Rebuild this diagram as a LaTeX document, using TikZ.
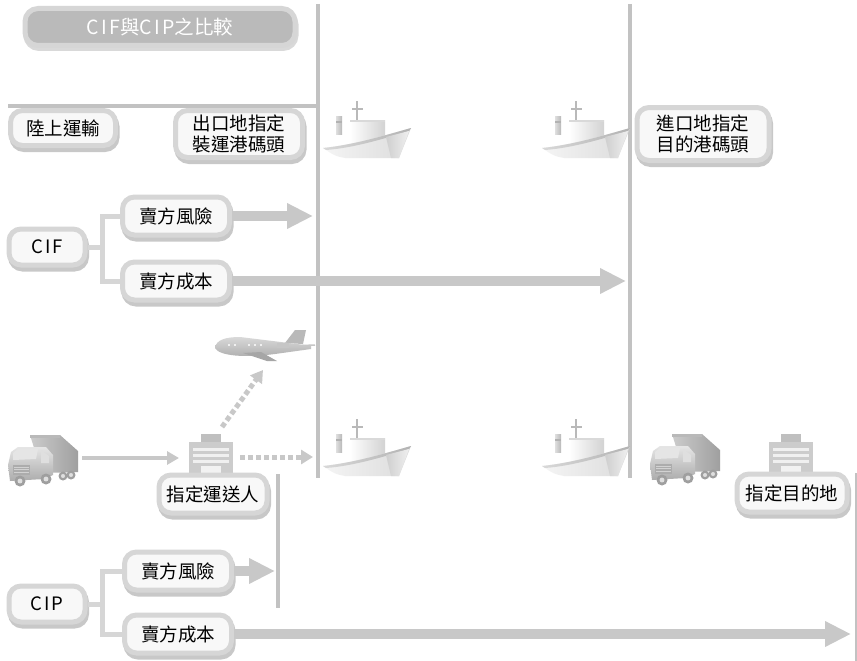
\documentclass[tikz,border=0pt]{standalone}
\usepackage{fontspec}
\setmainfont{Noto Sans CJK TC}
\usetikzlibrary{arrows.meta,shadows}

% letter-spaced Latin run
\newcommand\latinrun[1]{{\addfontfeature{LetterSpace=12}#1}}

\definecolor{ring}{HTML}{D6D6D6}
\definecolor{ringshade}{HTML}{C8C8C8}
\definecolor{inner}{HTML}{F8F8F8}
\definecolor{rule}{HTML}{C2C2C2}
\definecolor{arrowgray}{HTML}{C8C8C8}
\definecolor{titlefill}{HTML}{BABABA}

\tikzset{
  card/.style={draw=ring, line width=5pt, fill=inner, rounded corners=12pt,
    align=center, inner sep=0pt, font=\fontsize{18.5}{20.5}\selectfont,
    general shadow={draw=ringshade, fill=ringshade, line width=5pt,
      shadow xshift=1.5pt, shadow yshift=-4pt}},
  titlebox/.style={draw=ring, line width=5pt, fill=titlefill, rounded corners=13pt,
    text=white, inner sep=0pt, font=\fontsize{19.5}{21}\selectfont,
    general shadow={draw=ringshade!70, fill=ringshade!70, line width=5pt,
      shadow xshift=1pt, shadow yshift=-3pt}},
  rulebar/.style={draw=rule, line width=4pt},
  bracket/.style={draw=ring, line width=5pt},
  bigarrow/.style={draw=arrowgray, line width=10pt,
    -{Triangle[length=26pt, width=24pt]}},
  thinarrow/.style={draw=arrowgray, line width=4pt,
    -{Triangle[length=12pt, width=13pt]}},
  dotarrow/.style={draw=arrowgray, line width=5pt, dash pattern=on 5pt off 3pt,
    -{Triangle[length=12pt, width=14pt]}},
  ship/.pic={
    % funnel and mast
    \shade[left color=gray!25, right color=gray!55] (13,-42) rectangle (19,-24);
    \fill[gray!60] (13,-37) rectangle (19,-35);
    \draw[gray!55, line width=1.2pt] (34,-57) -- (34,-36) (29,-49) -- (40,-49);
    % superstructure
    \shade[left color=white, right color=gray!35] (27,-38) rectangle (62,-8);
    \fill[gray!30] (27,-38) rectangle (62,-36.5);
    % hull side
    \shade[left color=gray!8, right color=gray!28]
      (0,-10) .. controls (30,-13) and (60,-22) .. (88,-30)
      -- (76,0) -- (22,0) .. controls (12,-2) .. (0,-10) -- cycle;
    % deck band
    \shade[left color=gray!30, right color=gray!60]
      (0,-10) .. controls (30,-13) and (60,-22) .. (88,-30)
      -- (86,-27) .. controls (60,-19) and (30,-10) .. (3,-8) -- cycle;
    % bow
    \shade[left color=gray!38, right color=gray!12]
      (63,-21) -- (86,-27) -- (76,0) -- (68,0) -- cycle;
  },
  plane/.pic={
    % tail fin and stabiliser
    \fill[gray!55] (70,-5) -- (80,-18) -- (91,-18) -- (88,-4) -- cycle;
    \draw[gray!45, line width=1.5pt] (74,-2) -- (100,-3);
    % fuselage
    \shade[top color=gray!30, bottom color=gray!65]
      (0,0) .. controls (1,-8) and (10,-11) .. (25,-11) -- (82,-4)
      -- (96,-2) -- (96,1) -- (60,6) .. controls (30,10) and (4,8) .. (0,0) -- cycle;
    % wing
    \fill[gray!70] (28,5) -- (52,13) -- (62,13) -- (46,4) -- cycle;
    % engine
    \fill[gray!45] (62,-5) rectangle (74,0);
    % windows
    \foreach \wx in {14,20,34,40,46} \fill[white] (\wx,-3) circle (1.1);
  },
  truck/.pic={
    % trailer box
    \shade[left color=gray!40, right color=gray!75]
      (22,0) -- (52,0) -- (70,16) -- (70,37) -- (34,38) -- cycle;
    \fill[gray!55] (22,0) -- (52,0) -- (52,3) -- (22,3) -- cycle;
    % cab
    \shade[top color=gray!20, bottom color=gray!65]
      (0,30) -- (3,17) -- (10,12) -- (38,12) -- (45,20) -- (45,40)
      -- (36,44) -- (2,46) -- cycle;
    \fill[gray!20] (5,18) -- (10,14) -- (30,14) -- (28,24) -- (5,25) -- cycle;
    \fill[gray!25] (33,15) -- (41,21) -- (41,28) -- (33,28) -- cycle;
    \fill[gray!65] (5,30) rectangle (22,40);
    \foreach \gy in {32,34.5,37} \draw[gray!35, line width=0.8pt] (6,\gy) -- (21,\gy);
    % wheels
    \foreach \wx/\wy/\wr in {12/46/5.5, 38/44/5.5, 55/41/4.5, 63/40/4.5} {
      \fill[gray!75] (\wx,\wy) circle (\wr);
      \fill[gray!25] (\wx,\wy) circle (\wr*0.45);
    }
  },
  building/.pic={
    \fill[gray!50] (-10,0) rectangle (10,10);
    \fill[gray!40] (-22,8) rectangle (22,41);
    \foreach \sy in {14,20,26} \fill[gray!12] (-18,\sy) rectangle (18,\sy+3);
    \fill[gray!10] (-10,32) rectangle (10,41);
  }
}

\begin{document}
\begin{tikzpicture}[x=1pt, y=-1pt]
\useasboundingbox (0,0) rectangle (857,661);
\fill[white] (0,0) rectangle (857,661);

% title
\node[titlebox, minimum width=270pt, minimum height=37pt] (title) at (160,27)
  {\latinrun{CIF}與\latinrun{CIP}之比較};

% port rules
\coordinate (exTop) at (318,4);
\coordinate (exBot) at (318,478);
\coordinate (imTop) at (630,4);
\coordinate (imBot) at (630,478);
\coordinate (landL) at (8,106);
\coordinate (landR) at (318,106);
\draw[rulebar] (exTop) -- (exBot);
\draw[rulebar] (imTop) -- (imBot);
\draw[rulebar] (landL) -- (landR);
\coordinate (cipTop) at (278,474);
\coordinate (cipBot) at (278,608);
\draw[rulebar] (cipTop) -- (cipBot);
\coordinate (destTop) at (856,473);
\coordinate (destBot) at (856,661);
\draw[draw=rule, line width=2pt] (destTop) -- (destBot);

% headings
\node[card, minimum width=105pt, minimum height=35pt] (land) at (63,128) {陸上運輸};
\node[card, minimum width=127pt, minimum height=47pt] (export) at (239,134) {出口地指定\\裝運港碼頭};
\node[card, minimum width=132pt, minimum height=53pt] (import) at (703,134) {進口地指定\\目的港碼頭};

% ships
\pic at (323,158) {ship};
\pic at (542,158) {ship};
\pic at (323,476) {ship};
\pic at (542,476) {ship};

% CIF group
\node[card, minimum width=76pt, minimum height=36pt] (cif) at (47,247) {\latinrun{CIF}};
\node[card, minimum width=107pt, minimum height=38pt] (cifrisk) at (176,216) {賣方風險};
\node[card, minimum width=107pt, minimum height=38pt] (cifcost) at (176,281) {賣方成本};
\coordinate (cifj) at (102,247);
\draw[bracket] (cif.east) -- (cifj);
\draw[bracket] (cifrisk.west) -| (cifj) |- (cifcost.west);
\coordinate (cifriskEnd) at (313,216);
\coordinate (cifcostEnd) at (626,281);
\draw[bigarrow] (cifrisk.east) -- (cifriskEnd);
\draw[bigarrow] (cifcost.east) -- (cifcostEnd);

% carriers
\pic at (215,348) {plane};
\pic at (8,435) {truck};
\pic at (650,434) {truck};
\pic at (211,434) {building};
\pic at (791,434) {building};
\coordinate (truckA) at (82,458);
\coordinate (carrierIn) at (179,458);
\coordinate (carrierOut) at (240,457);
\coordinate (portIn) at (313,457);
\coordinate (carrierUp) at (222,427);
\coordinate (planeIn) at (263,370);
\draw[thinarrow] (truckA) -- (carrierIn);
\draw[dotarrow] (carrierOut) -- (portIn);
\draw[dotarrow] (carrierUp) -- (planeIn);

\node[card, minimum width=108pt, minimum height=38pt] (carrier) at (213,494) {指定運送人};
\node[card, minimum width=110pt, minimum height=38pt] (dest) at (792,493) {指定目的地};

% CIP group
\node[card, minimum width=76pt, minimum height=36pt] (cip) at (47,604) {\latinrun{CIP}};
\node[card, minimum width=107pt, minimum height=38pt] (ciprisk) at (178,571) {賣方風險};
\node[card, minimum width=107pt, minimum height=38pt] (cipcost) at (178,634) {賣方成本};
\coordinate (cipj) at (102,604);
\draw[bracket] (cip.east) -- (cipj);
\draw[bracket] (ciprisk.west) -| (cipj) |- (cipcost.west);
\coordinate (cipriskEnd) at (275,571);
\coordinate (cipcostEnd) at (851,634);
\draw[bigarrow] (ciprisk.east) -- (cipriskEnd);
\draw[bigarrow] (cipcost.east) -- (cipcostEnd);
\end{tikzpicture}
\end{document}
